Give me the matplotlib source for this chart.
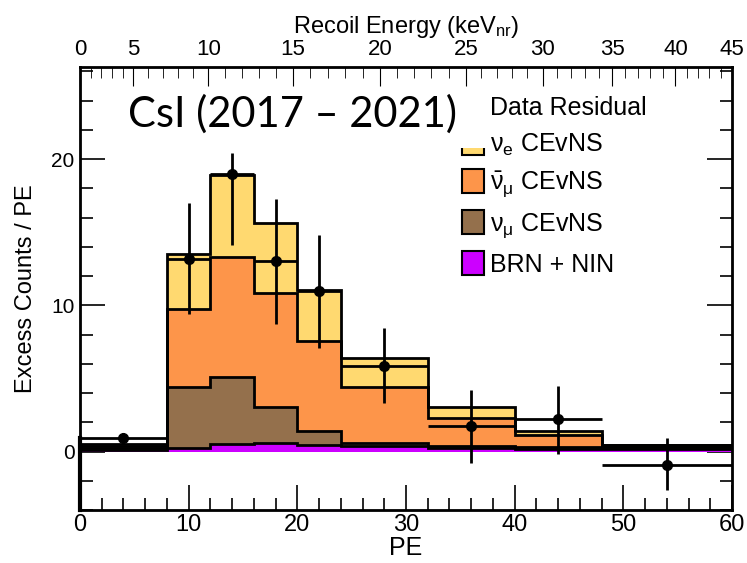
import numpy as np
import matplotlib.pyplot as plt
from matplotlib.transforms import IdentityTransform

plt.rcParams['font.family'] = ['Liberation Sans', 'DejaVu Sans']
plt.rcParams['mathtext.default'] = 'regular'

# PE binning
edges = np.array([0, 8, 12, 16, 20, 24, 32, 40, 48, 60])

# predicted excess per PE, stacked bottom to top
brn_nin = np.array([0.08, 0.25, 0.50, 0.55, 0.45, 0.35, 0.25, 0.20, 0.18])
numu = np.array([0.17, 4.15, 4.60, 2.48, 0.94, 0.20, 0.10, 0.10, 0.10])
numubar = np.array([0.15, 5.37, 8.20, 7.84, 6.16, 3.85, 1.91, 0.82, 0.14])
nue = np.array([0.13, 3.73, 5.60, 4.79, 3.48, 2.01, 0.80, 0.27, 0.06])

# data residual
data_pe = np.array([4, 10, 14, 18, 22, 28, 36, 44, 54])
data_counts = np.array([0.9, 13.2, 18.95, 13.0, 10.95, 5.85, 1.75, 2.2, -0.9])
err_lo = np.array([0.35, 3.8, 4.8, 4.25, 3.85, 2.5, 2.5, 2.4, 1.75])
err_hi = np.array([0.4, 3.8, 1.5, 4.3, 3.85, 2.6, 2.45, 2.3, 1.8])

# recoil energy (keVnr) -> PE for the top scale
recoil_kev = np.array([0, 5, 10, 15, 20, 25, 30, 35, 40, 45])
recoil_pe = np.array([0, 4.9, 11.8, 19.6, 27.6, 35.5, 42.6, 49.0, 54.8, 60.0])

colors = ['#CC00FF', '#94704C', '#FD954A', '#FFD970']
labels = ['BRN + NIN', r'$\nu_\mu$ CEvNS', r'$\bar{\nu}_\mu$ CEvNS', r'$\nu_e$ CEvNS']

fig = plt.figure(figsize=(7.47, 5.63), dpi=100)
ax = fig.add_axes([0.1071, 0.0941, 0.8728, 0.7869])

# stack
base = np.zeros(len(brn_nin))
handles = []
for comp, col, lab in zip([brn_nin, numu, numubar, nue], colors, labels):
    top = base + comp
    h = ax.stairs(top, edges, baseline=base, fill=True, color=col, label=lab, zorder=2)
    handles.append(h)
    base = top
# black outlines of each layer
base = np.zeros(len(brn_nin))
for comp in [brn_nin, numu, numubar, nue]:
    base = base + comp
    ax.stairs(base, edges, baseline=None, color='black', lw=2, zorder=3)

xerr = np.diff(edges) / 2
ax.errorbar(data_pe, data_counts, xerr=xerr, yerr=[err_lo, err_hi], fmt='o',
            color='black', ms=7, elinewidth=2, capsize=0, zorder=5)

ax.set_xlim(0, 60)
ax.set_ylim(-4, 26.3)
ax.set_xticks(np.arange(0, 61, 10))
ax.set_xticks(np.arange(0, 61, 2), minor=True)
ax.set_yticks([0, 10, 20])
ax.set_yticks(np.arange(-4, 27, 2), minor=True)
ax.tick_params(which='both', direction='in', right=True, top=False, width=1.2)
ax.tick_params(which='major', length=18)
ax.tick_params(which='minor', length=9)
ax.tick_params(axis='x', labelsize=17, pad=3)
ax.tick_params(axis='y', labelsize=15, pad=4)
for s in ax.spines.values():
    s.set_linewidth(2)
ax.plot([0, 0], [-4, 0.9], color='black', lw=3, zorder=6, clip_on=False)

ax.set_xlabel('PE', fontsize=18, labelpad=0)
ax.set_ylabel('Excess Counts / PE', fontsize=17, labelpad=10)

# recoil energy axis on top
ax2 = ax.twiny()
ax2.set_xlim(ax.get_xlim())
ax2.set_xticks(recoil_pe)
ax2.set_xticklabels([str(k) for k in recoil_kev])
ax2.set_xticks(np.interp(np.arange(0, 46, 1), recoil_kev, recoil_pe), minor=True)
ax2.tick_params(which='both', direction='in', labelsize=16, pad=5)
ax2.tick_params(which='major', length=14)
ax2.tick_params(which='minor', length=8)
ax2.set_xlabel('Recoil Energy (keV$_{nr}$)', fontsize=17, labelpad=4)

ax.text(0.073, 0.893, 'CsI (2017 – 2021)', transform=ax.transAxes,
        fontsize=30, family='Lato', va='center', ha='left')

leg_handles = [plt.Rectangle((0, 0), 1, 1, fc='none', ec='none')] + handles[::-1]
leg_labels = ['Data Residual'] + labels[::-1]
leg = ax.legend(leg_handles, leg_labels, loc='upper left', bbox_to_anchor=(0.57, 0.96),
                frameon=False, fontsize=18, handlelength=0.9, handleheight=1.1,
                handletextpad=0.25, labelspacing=0.45, borderaxespad=0)
for p in leg.get_patches()[1:]:
    p.set_edgecolor('black')
    p.set_linewidth(1.5)

# the "Data Residual" row overlaps the top of the first colour box
fig.canvas.draw()
bb = leg.get_patches()[1].get_window_extent()
fig.add_artist(plt.Rectangle((bb.x0 - 3, bb.y0 + 0.3 * bb.height), bb.width + 6, bb.height,
                             transform=IdentityTransform(), fc='white', ec='none', zorder=10))

fig.savefig('out.png', dpi=100)
